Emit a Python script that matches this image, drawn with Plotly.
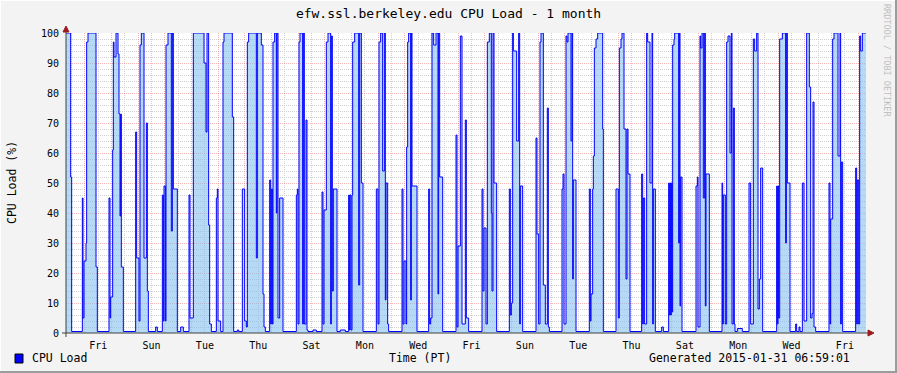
import pandas as pd
import plotly.graph_objects as go

# ---------------- data ----------------
START = "2015-01-01 07:00"
END = "2015-01-31 07:00"

# change points of the step series: hours since START and CPU load (%)
hours = [0, 4.2, 5.1, 14.7, 15.3, 16.2, 18.0, 18.6, 19.8, 27.0, 28.2,
         38.7, 39.6, 40.2, 42.0, 42.6, 43.2, 45.0, 46.8, 47.7, 48.6, 49.2, 49.8, 51.6,
         62.7, 63.6, 65.7, 66.6, 67.8, 70.2, 72.3, 73.2, 74.1, 80.7, 82.2,
         86.7, 87.6, 88.2, 89.4, 90.0, 91.8, 94.8, 95.7, 96.6, 100.2, 103.2, 105.6,
         110.7, 111.6, 114.6, 124.2, 126.0, 126.9, 128.4, 129.3, 130.8,
         135.3, 136.2, 136.8, 139.2,
         141.3, 142.2, 149.7, 150.9, 154.2, 155.4,
         158.7, 160.8, 162.3, 163.2, 164.4, 171.3, 172.2, 175.8, 177.3, 178.2, 179.4,
         183.3, 184.2, 184.8, 185.7, 186.3, 187.8, 189.3, 189.9, 190.8, 192.3, 195.3,
         207.3, 208.2, 208.8, 209.7, 210.6, 213.0, 213.6, 214.5, 216.0, 216.9, 217.8, 222.3, 225.3,
         230.4, 231.3, 232.2, 234.3, 235.8, 238.2, 238.8, 239.7, 240.6, 243.9, 246.9, 251.4,
         254.4, 255.0, 255.6, 256.5, 257.4, 258.0, 259.8, 263.4, 264.3, 265.8, 267.3,
         279.3, 280.8, 281.7, 283.2, 285.0, 286.5, 287.4, 288.0, 289.5, 290.4,
         302.4, 303.3, 304.2, 306.0, 306.6, 307.5, 308.4, 310.2, 310.8, 311.4, 315.9,
         326.4, 327.3, 328.2, 329.4, 330.9, 333.0, 334.8, 335.4, 336.3, 339.0,
         351.0, 351.9, 352.8, 354.9, 356.4, 359.4, 360.3, 362.4,
         374.4, 375.3, 376.2, 378.0, 379.2, 381.0, 382.8, 383.4, 384.3, 385.2, 387.6,
         399.0, 399.9, 400.8, 402.0, 402.6, 405.6, 407.4, 408.3, 408.9, 411.0,
         423.0, 423.9, 425.4, 426.6, 427.5, 429.6, 431.4, 433.2, 434.1, 435.0,
         446.4, 447.3, 448.2, 450.0, 450.9, 451.8, 454.5, 455.4, 456.0, 456.6, 459.0,
         471.0, 471.9, 472.5, 474.0, 474.6, 475.5, 477.0, 478.5, 483.0, 483.6,
         495.0, 497.1, 498.0, 499.5, 500.4, 502.2, 504.0, 504.9, 505.8, 507.6,
         518.1, 519.0, 519.6, 520.8, 522.6, 523.5, 525.6, 527.4, 528.0, 528.6, 530.4, 536.1, 537.6,
         542.4, 543.0, 543.6, 544.2, 544.8, 545.4, 546.0, 547.2, 547.8, 551.4, 552.0, 552.6, 553.2, 554.4,
         567.0, 568.2, 568.8, 570.6, 571.2, 572.4, 573.6, 574.8, 575.4, 576.0, 579.0,
         590.4, 591.0, 591.6, 593.4, 594.6, 595.8, 597.6, 598.8, 599.4, 600.6, 601.5, 602.1, 604.2, 608.7,
         614.7, 616.2, 618.6, 619.8, 621.6, 622.8, 624.0, 625.2, 627.0,
         639.6, 640.2, 640.8, 641.4, 642.3, 644.7, 647.7, 648.3, 649.2, 651.6, 656.7, 657.6, 659.7, 660.6,
         662.7, 664.2, 666.6, 669.0, 670.2, 671.4, 672.3, 673.2, 674.7,
         686.7, 687.6, 688.2, 690.0, 691.2, 694.8, 696.6, 697.2, 697.8, 699.0,
         710.7, 711.6, 712.2, 713.4, 714.3, 715.2, 716.7, 720.0]

cpu = [100, 52, 0.5, 45, 5, 24, 30, 97, 100, 22, 0.5,
       45, 5, 12, 61, 97, 92, 100, 93, 73, 39, 73, 22, 0.5,
       67, 25, 4, 96, 100, 25, 70, 14, 0.5, 2, 0.5,
       46, 4, 49, 4, 96, 100, 34, 100, 48, 0.5, 2, 0.5,
       46, 5, 100, 90, 67, 100, 36, 3, 0.5,
       45, 48, 4, 0.5,
       97, 100, 72, 0.5, 1, 0.5,
       48, 4, 2, 97, 100, 25, 100, 96, 13, 2, 0.5,
       51, 3, 48, 3, 97, 100, 40, 100, 5, 45, 0.5,
       46, 48, 3, 97, 100, 3, 100, 3, 71, 1, 0.5, 1, 0.5,
       47, 3, 41, 97, 100, 3, 99, 14, 48, 0.5, 1, 0.5,
       46, 1, 46, 1, 46, 97, 100, 16, 100, 50, 0.5,
       48, 3, 97, 100, 54, 100, 11, 50, 3, 0.5,
       48, 3, 24, 3, 62, 97, 100, 11, 100, 49, 0.5,
       48, 3, 5, 100, 96, 100, 13, 100, 52, 0.5,
       66, 2, 29, 99, 3, 71, 5, 0.5,
       48, 14, 35, 3, 97, 100, 40, 14, 100, 50, 0.5,
       48, 6, 10, 100, 94, 64, 100, 3, 49, 0.5,
       65, 33, 3, 97, 100, 16, 3, 75, 2, 0.5,
       48, 53, 3, 99, 97, 100, 64, 100, 18, 51, 0.5,
       48, 4, 13, 48, 59, 95, 98, 100, 68, 0.5,
       48, 5, 95, 98, 100, 68, 18, 68, 53, 0.5,
       53, 3, 45, 3, 100, 97, 50, 100, 3, 48, 0.5, 2, 0.5,
       50, 6, 50, 6, 50, 7, 96, 98, 100, 30, 100, 9, 52, 0.5,
       49, 52, 2, 99, 95, 100, 45, 100, 9, 53, 0.5,
       50, 3, 46, 3, 97, 99, 60, 100, 3, 75, 3, 0.5, 1.5, 0.5,
       50, 3, 98, 94, 100, 8, 18, 55, 0.5,
       49, 3, 49, 5, 98, 100, 30, 100, 50, 0.5, 3, 0.5, 2, 0.5,
       50, 4, 100, 82, 5, 6.5, 77, 2, 0.5,
       50, 3, 38, 98, 100, 59, 100, 3, 57, 0.5,
       55, 3, 51, 3, 99, 94, 100, 100]

# x tick labels (placed at noon of every other day)
label_days = ["2015-01-02", "2015-01-04", "2015-01-06", "2015-01-08", "2015-01-10",
              "2015-01-12", "2015-01-14", "2015-01-16", "2015-01-18", "2015-01-20",
              "2015-01-22", "2015-01-24", "2015-01-26", "2015-01-28", "2015-01-30"]
label_text = ["Fri", "Sun", "Tue", "Thu", "Sat", "Mon", "Wed", "Fri",
              "Sun", "Tue", "Thu", "Sat", "Mon", "Wed", "Fri"]

# ---------------- figure ----------------
t0 = pd.Timestamp(START)
times = [t0 + pd.Timedelta(hours=h) for h in hours]
label_pos = [pd.Timestamp(d) + pd.Timedelta(hours=12) for d in label_days]

FONT = "DejaVu Sans Mono"
W, H = 897, 373
L, R, T, B = 66, 31, 33, 40
PW, PH = W - L - R, H - T - B


def px(x):
    return (x - L) / PW


def py(y):
    return (H - B - y) / PH


fig = go.Figure()
fig.add_trace(go.Scatter(
    x=times, y=cpu, mode="lines", line=dict(color="#0000FF", width=1, shape="hv"),
    fill="tozeroy", fillcolor="rgba(130,190,240,0.58)", showlegend=False,
    hoverinfo="skip"))
fig.add_trace(go.Scatter(x=[times[0]], y=[None], xaxis="x2", showlegend=False,
                         mode="lines", hoverinfo="skip"))

grid_dash = "1px,1px"
MAJ = "rgba(235,120,120,0.55)"
MIN = "#CFCFCF"
fig.update_layout(
    width=W, height=H,
    margin=dict(l=L, r=R, t=T, b=B, pad=0),
    paper_bgcolor="#F3F3F3", plot_bgcolor="#FFFFFF",
    font=dict(family=FONT, size=10, color="#000000"),
    title=dict(text="efw.ssl.berkeley.edu CPU Load - 1 month", x=0.5, xref="container",
               xanchor="center", y=1 - 13 / H, yref="container", yanchor="middle",
               font=dict(family=FONT, size=13, color="#000000")),
    xaxis=dict(type="date", range=[START, END], showticklabels=False, ticks="",
               showgrid=True, gridcolor=MAJ, griddash=grid_dash, gridwidth=1,
               tick0="2015-01-02", dtick=86400000,
               minor=dict(dtick=43200000, tick0="2015-01-02", showgrid=True,
                          gridcolor=MIN, griddash=grid_dash, gridwidth=1),
               zeroline=False, showline=False, layer="above traces"),
    xaxis2=dict(type="date", range=[START, END], overlaying="x", anchor="y", side="bottom",
                tickmode="array", tickvals=label_pos, ticktext=label_text,
                showgrid=False, zeroline=False, showline=False,
                ticks="outside", ticklen=3, tickcolor="rgba(0,0,0,0)",
                tickfont=dict(family=FONT, size=10, color="#000000")),
    yaxis=dict(range=[0, 100], dtick=10, tick0=0, showgrid=True,
               gridcolor=MAJ, griddash=grid_dash, gridwidth=1,
               minor=dict(dtick=2, showgrid=True, gridcolor=MIN, griddash=grid_dash, gridwidth=1),
               zeroline=False, showline=False, ticks="outside", ticklen=4,
               tickcolor="rgba(0,0,0,0)", tickfont=dict(family=FONT, size=10, color="#000000")),
)

shapes = []
# image frame (3d look)
shapes.append(dict(type="line", xref="paper", yref="paper", x0=px(0), x1=px(W), y0=py(0.5), y1=py(0.5),
                   line=dict(color="#FFFFFF", width=1)))
shapes.append(dict(type="line", xref="paper", yref="paper", x0=px(0.5), x1=px(0.5), y0=py(0), y1=py(H),
                   line=dict(color="#FFFFFF", width=1)))
shapes.append(dict(type="line", xref="paper", yref="paper", x0=px(0), x1=px(W), y0=py(H - 1), y1=py(H - 1),
                   line=dict(color="#9C9C9C", width=2)))
shapes.append(dict(type="line", xref="paper", yref="paper", x0=px(W - 1), x1=px(W - 1), y0=py(0), y1=py(H),
                   line=dict(color="#9C9C9C", width=2)))
# axes
shapes.append(dict(type="line", xref="paper", yref="paper", x0=px(62), x1=px(869), y0=0, y1=0,
                   line=dict(color="#404040", width=1)))
shapes.append(dict(type="line", xref="paper", yref="paper", x0=0, x1=0, y0=py(337), y1=py(30),
                   line=dict(color="#404040", width=1)))
# arrows
shapes.append(dict(type="path", xref="paper", yref="paper",
                   path=f"M {px(63)} {py(32)} L {px(69)} {py(32)} L {px(66)} {py(26)} Z",
                   fillcolor="#9B1C1C", line=dict(color="#9B1C1C", width=1)))
shapes.append(dict(type="path", xref="paper", yref="paper",
                   path=f"M {px(868)} {py(330)} L {px(868)} {py(336)} L {px(874)} {py(333)} Z",
                   fillcolor="#9B1C1C", line=dict(color="#9B1C1C", width=1)))
# legend swatch
shapes.append(dict(type="rect", xref="paper", yref="paper", x0=px(15), x1=px(23), y0=py(363), y1=py(354),
                   fillcolor="#0000FF", line=dict(color="#000000", width=1)))
fig.update_layout(shapes=shapes)

ann = [
    dict(text="CPU Load (%)", x=px(12), y=py(183), textangle=-90,
         font=dict(family=FONT, size=11.5, color="#000000")),
    dict(text="CPU Load", x=px(30), y=py(358), xanchor="left",
         font=dict(family=FONT, size=11.5, color="#000000")),
    dict(text="Time (PT)", x=px(420), y=py(358),
         font=dict(family=FONT, size=11.5, color="#000000")),
    dict(text="Generated 2015-01-31 06:59:01", x=px(852), y=py(358), xanchor="right",
         font=dict(family=FONT, size=11.5, color="#000000")),
    dict(text="RRDTOOL / TOBI OETIKER", x=px(887), y=py(60), textangle=90,
         font=dict(family=FONT, size=8.5, color="#C0C0C0")),
]
for a in ann:
    a.setdefault("xanchor", "center")
    a.update(xref="paper", yref="paper", yanchor="middle", showarrow=False)
fig.update_layout(annotations=ann)

fig.write_html("out.html", config={"displayModeBar": False},
               post_script="document.body.style.margin='0';")
